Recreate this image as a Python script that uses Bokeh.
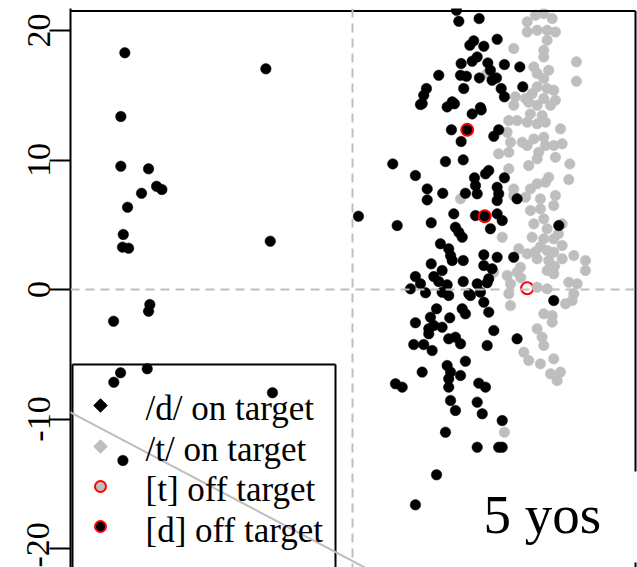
from bokeh.plotting import figure
from bokeh.models import Range1d, Span, Slope, Label, FixedTicker
from bokeh.embed import file_html
from bokeh.resources import INLINE

# ---------------- data ----------------
y_ticks = [-20, -10, 0, 10, 20]
y_tick_labels = ["-20", "-10", "0", "10", "20"]

# /d/ on target (black)
d_on_x = [-17.58, -6.69, -17.89, -17.89, -15.75, -15.13, -14.72, -16.29, -17.37, 0.46,
          -17.70, -17.76, -17.29, -6.35, -15.65, -15.75, -18.45, -17.91, -18.43, -15.85,
          -6.18, -17.73,
          8.03, 8.21, 9.78, 11.17, 9.36, 9.06, 10.14, 9.63, 9.24, 8.39,
          10.45, 11.73, 12.92, 10.65, 6.66, 8.34, 8.80, 9.80, 11.12, 10.78,
          13.15, 8.59, 5.71, 11.48, 5.50, 11.73, 5.38, 7.70, 7.31, 9.88,
          5.25, 7.87, 9.24, 9.94, 7.64, 11.29, 10.91, 8.39, 3.11, 7.18,
          8.55, 4.86, 10.52, 10.27, 9.42, 11.73, 9.50, 5.77, 6.97, 8.72,
          9.63, 11.17, 11.29, 12.71, 5.77, 11.17, 7.82, 9.50, 11.17, 11.56,
          3.45, 6.08, 7.95, 8.21, 8.47, 10.65, 15.93, 6.79, 7.43, 7.57,
          7.70, 8.55, 10.14, 11.17, 12.45, 6.08, 6.92, 10.14, 10.78, 4.86,
          6.28, 6.66, 7.31, 8.55, 9.63, 10.52, 10.40, 4.48, 5.25, 5.64,
          8.98, 9.88, 6.92, 7.43, 9.11, 10.14, 15.54, 6.49, 8.47, 8.72,
          10.52, 4.86, 6.02, 7.51, 5.89, 6.28, 6.92, 5.89, 10.91, 7.43,
          7.95, 8.34, 4.73, 5.50, 6.15, 10.40, 12.71, 8.72, 7.31, 7.57,
          8.34, 5.38, 3.32, 3.84, 7.43, 7.43, 9.75, 10.27, 7.57, 7.95,
          9.63, 10.02, 11.56, 7.18, 9.63, 11.29, 11.56, 6.49, 4.86]
d_on_y = [18.28, 17.04, 13.36, 9.52, 9.32, 7.97, 7.72, 7.43, 6.35, 5.66,
          4.25, 3.27, 3.19, 3.73, -1.16, -1.68, -2.45, -6.43, -7.16, -6.12,
          -7.97, -13.20,
          21.56, 20.71, 20.92, 19.32, 19.20, 18.86, 18.78, 17.96, 17.63, 17.45,
          17.50, 17.37, 17.19, 16.93, 16.54, 16.54, 16.47, 16.34, 16.34, 16.16,
          15.65, 15.52, 15.52, 15.52, 15.00, 14.88, 14.36, 14.49, 14.10, 14.05,
          14.28, 14.34, 13.56, 13.87, 12.33, 12.33, 11.83, 11.43, 9.70, 9.88,
          10.01, 8.80, 9.19, 8.93, 8.62, 8.62, 8.03, 7.77, 7.43, 7.43,
          7.39, 7.90, 7.39, 7.00, 6.92, 6.87, 5.84, 5.71, 5.84, 5.33,
          4.94, 5.15, 4.81, 4.42, 4.04, 4.69, 4.94, 3.53, 3.14, 2.62,
          2.24, 2.24, 2.68, 2.49, 2.49, 1.98, 1.47, 1.85, 1.60, 1.00,
          1.00, 0.62, 0.36, 0.62, 0.44, 0.83, 0.52, 0.05, 0.44, -0.25,
          -0.33, -0.21, -0.21, -0.46, -0.46, -0.98, -0.85, -1.49, -1.49, -1.88,
          -1.75, -2.57, -2.14, -2.19, -3.03, -2.78, -2.91, -3.42, -3.17, -3.81,
          -3.68, -4.19, -4.25, -4.25, -4.71, -4.32, -3.81, -5.54, -5.87, -6.38,
          -6.64, -6.38, -7.28, -7.54, -6.89, -7.54, -7.23, -7.54, -8.57, -9.34,
          -8.70, -9.60, -10.12, -11.02, -12.18, -12.18, -12.18, -14.31, -16.63]

# /t/ on target (grey)
t_on_x = [13.49, 14.13, 14.77, 15.42, 13.49, 14.26, 15.03, 15.67, 15.03, 12.45,
          14.77, 14.77, 17.29, 14.00, 14.26, 15.15, 10.40, 14.77, 17.29, 14.26,
          15.03, 15.54, 13.87, 12.58, 13.36, 14.77, 15.67, 12.45, 14.26, 15.29,
          13.61, 13.74, 14.64, 12.07, 12.71, 13.49, 14.26, 14.90, 11.94, 16.06,
          14.00, 14.77, 13.10, 12.20, 13.49, 14.90, 15.54, 16.19, 11.29, 12.07,
          14.38, 14.26, 15.67, 13.61, 16.78, 12.07, 15.15, 16.70, 14.26, 14.90,
          12.45, 13.74, 15.67, 8.34, 13.36, 14.51, 12.45,
          13.74, 14.51, 15.54, 14.77, 14.00, 15.03, 16.19, 11.56, 13.87, 14.77,
          15.54, 16.19, 12.84, 15.03, 15.54, 13.49, 17.09, 14.26, 15.15, 16.19,
          17.99, 12.97, 11.94, 12.71, 15.03, 15.54, 17.99, 10.91, 12.20, 14.26,
          15.03, 16.70, 17.35, 12.07, 14.50, 15.90, 13.00, 14.10, 15.60,
          12.20, 16.45, 16.96, 17.09, 14.77, 15.42, 15.42, 14.26, 14.64, 14.77,
          13.23, 13.61, 14.51, 15.54, 15.29, 16.06, 15.80, 11.73]
t_on_y = [20.67, 21.18, 21.31, 20.92, 19.89, 20.02, 20.02, 19.89, 19.25, 18.61,
          18.47, 17.96, 17.58, 17.19, 16.68, 16.93, 16.68, 16.29, 16.08, 15.65,
          15.52, 15.39, 15.13, 14.88, 14.75, 14.75, 14.61, 14.23, 14.23, 14.23,
          14.46, 13.56, 13.43, 13.05, 13.05, 12.92, 12.79, 12.92, 12.14, 12.41,
          11.63, 11.76, 11.37, 11.37, 11.12, 11.12, 11.12, 11.25, 10.48, 10.60,
          10.60, 10.09, 10.21, 9.57, 9.70, 9.32, 8.67, 8.49, 8.16, 8.28,
          7.77, 7.77, 7.26, 7.00, 7.13, 7.00, 7.26,
          6.10, 6.23, 6.48, 5.46, 5.07, 4.69, 5.07, 4.04, 4.04, 3.91,
          3.91, 3.40, 3.14, 3.01, 2.88, 2.76, 2.62, 2.37, 2.24, 2.37,
          2.24, 1.72, 1.08, 1.34, 1.47, 1.21, 1.47, 1.34, 0.44, 0.18,
          0.05, 0.56, 0.44, -0.33, 3.30, 4.30, 0.90, 2.90, 1.80,
          -1.24, -1.10, -0.85, -0.33, -1.88, -2.01, -2.52, -3.03, -3.68, -4.32,
          -4.84, -5.48, -5.74, -5.35, -6.51, -6.38, -7.03, -11.02]

# [d] off target (red ring, black fill)
d_off_x = [8.86, 10.21]
d_off_y = [12.33, 5.66]

# [t] off target (red ring)
t_off_x = [13.49]
t_off_y = [0.10]

legend_labels = ["/d/ on target", "/t/ on target", "[t] off target", "[d] off target"]
panel_label = "5 yos"

# ---------------- figure ----------------
SCALE = 12.95
X0, X1 = -282 / SCALE, 285 / SCALE
Y0, Y1 = -20 - 19 / SCALE, 20 + 22 / SCALE

GREY = "#BEBEBE"
SERIF = "Liberation Serif"

p = figure(width=637, height=567, output_backend="svg", toolbar_location=None,
           x_range=Range1d(X0, X1), y_range=Range1d(Y0, Y1),
           x_axis_location=None, y_axis_location="left",
           min_border=0, min_border_left=70, min_border_top=8,
           min_border_right=0, min_border_bottom=0)
p.outline_line_color = None
p.xgrid.visible = False
p.ygrid.visible = False
p.background_fill_color = "white"
p.border_fill_color = "white"

ax = p.yaxis[0]
ax.ticker = FixedTicker(ticks=y_ticks)
ax.major_label_overrides = {t: s for t, s in zip(y_ticks, y_tick_labels)}
ax.major_label_orientation = "vertical"
ax.major_label_text_font = SERIF
ax.major_label_text_font_size = "34px"
ax.major_label_text_color = "black"
ax.major_label_standoff = 0
ax.major_tick_in = 0
ax.major_tick_out = 21
ax.major_tick_line_width = 2
ax.minor_tick_line_color = None
ax.axis_line_width = 2
ax.axis_line_color = "black"

# reference lines
p.add_layout(Span(location=0, dimension="width", line_color=GREY,
                  line_width=2, line_dash="9 6"))
p.add_layout(Span(location=0, dimension="height", line_color=GREY,
                  line_width=2, line_dash="9 6"))
p.add_layout(Slope(gradient=-0.527, y_intercept=-20.97, line_color=GREY, line_width=2))

# points
p.scatter(t_off_x, t_off_y, marker="circle", size=12, fill_color="white",
          line_color="red", line_width=2)
p.scatter(t_on_x, t_on_y, marker="circle", size=10.5, fill_color=GREY, line_color=GREY, line_width=0.5)
p.scatter(d_on_x, d_on_y, marker="circle", size=10.5, fill_color="black", line_color="black", line_width=0.5)
p.scatter(d_off_x, d_off_y, marker="circle", size=12, fill_color="black",
          line_color="red", line_width=2)

# plot border (top and right; right broken by the white panel-label box)
XR = 283 / SCALE
YT = 278.5 / SCALE
p.segment(x0=[X0, XR, XR], y0=[YT, YT, -273 / SCALE], x1=[XR, XR, XR],
          y1=[YT, -182 / SCALE, Y0], line_color="black", line_width=2)

# legend box (three sides, bottom runs off the page)
LX0, LX1, LYT = -280 / SCALE, -17 / SCALE, -75 / SCALE
p.segment(x0=[LX0, LX0, LX1], y0=[Y0, LYT, LYT], x1=[LX0, LX1, LX1],
          y1=[LYT, LYT, Y0], line_color="black", line_width=2)

mx = -252 / SCALE
my = [-116 / SCALE, -157 / SCALE, -197 / SCALE, -237 / SCALE]
p.scatter([mx], [my[0]], marker="square", angle=0.7854, size=9.5,
          fill_color="black", line_color="black")
p.scatter([mx], [my[1]], marker="square", angle=0.7854, size=9.5,
          fill_color=GREY, line_color=GREY)
p.scatter([mx], [my[2]], marker="circle", size=11, fill_color=GREY,
          line_color="red", line_width=2)
p.scatter([mx], [my[3]], marker="circle", size=11, fill_color="black",
          line_color="red", line_width=2)

tx = -207 / SCALE
ty = [-119 / SCALE, -159.5 / SCALE, -200 / SCALE, -240.5 / SCALE]
for lab, yy in zip(legend_labels, ty):
    p.add_layout(Label(x=tx, y=yy, text=lab, text_font=SERIF,
                       text_font_size="35px", text_color="black",
                       text_baseline="alphabetic", text_align="left"))

p.add_layout(Label(x=131 / SCALE, y=-225 / SCALE, text=panel_label, text_font=SERIF,
                   text_font_size="55px", text_color="black",
                   text_baseline="alphabetic", text_align="left"))

open("out.html", "w").write(file_html(p, INLINE))
